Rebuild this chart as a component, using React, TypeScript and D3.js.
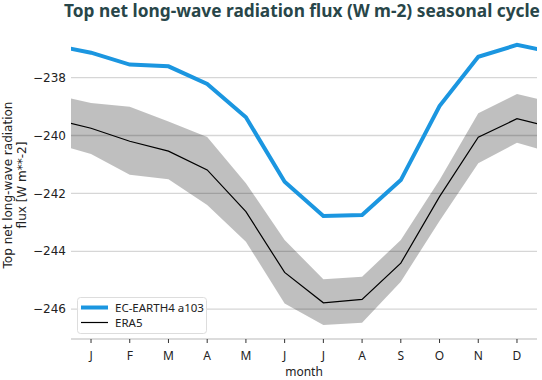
import React from "react";
import * as d3 from "d3";

const months = ["J", "F", "M", "A", "M", "J", "J", "A", "S", "O", "N", "D"];
const ecEarth = [-237.14, -237.55, -237.61, -238.22, -239.37, -241.6, -242.78, -242.75, -241.54, -238.98, -237.28, -236.87];
const era5 = [-239.75, -240.2, -240.54, -241.19, -242.63, -244.73, -245.78, -245.66, -244.41, -242.11, -240.06, -239.42];
const era5Upper = [-238.88, -239.01, -239.52, -240.05, -241.65, -243.61, -244.97, -244.88, -243.61, -241.54, -239.23, -238.57];
const era5Lower = [-240.64, -241.36, -241.51, -242.4, -243.67, -245.8, -246.55, -246.47, -245.05, -242.95, -240.96, -240.25];
const yTicks = [-238, -240, -242, -244, -246];

// wrap-around: previous December and next January
function wrap(arr: number[]) {
  const pts = arr.map((v, i) => [i, v] as [number, number]);
  return [[-1, arr[11]] as [number, number], ...pts, [12, arr[0]] as [number, number]];
}

export default function App() {
  const W = 542, H = 380;
  const left = 71, right = 537, top = 31, bottom = 339;
  const x = d3.scaleLinear().domain([-0.517, 11.517]).range([left, right]);
  const y = d3.scaleLinear().domain([-247.03, -236.39]).range([bottom, top]);

  const line = d3.line<[number, number]>().x((d) => x(d[0])).y((d) => y(d[1]));
  const lowW = wrap(era5Lower);
  const bandData = wrap(era5Upper).map((d, i) => ({ x: d[0], hi: d[1], lo: lowW[i][1] }));
  const area = d3
    .area<{ x: number; hi: number; lo: number }>()
    .x((d) => x(d.x))
    .y0((d) => y(d.lo))
    .y1((d) => y(d.hi));

  const sans = "'DejaVu Sans', sans-serif";
  const ub = "'Noto Sans', sans-serif";

  return (
    <svg width={W} height={H} style={{ position: "absolute", left: 0, top: 0 }}>
      <defs>
        <clipPath id="plotclip">
          <rect x={left} y={top} width={right - left} height={bottom - top} />
        </clipPath>
      </defs>
      <rect x={0} y={0} width={W} height={H} fill="#fff" />
      <text x={302} y={17} textAnchor="middle" fontFamily={ub} fontWeight="bold" fontSize={17.3} fill="#284649">
        Top net long-wave radiation flux (W m-2) seasonal cycle
      </text>
      {yTicks.map((t) => (
        <g key={t}>
          <line x1={left} x2={right} y1={y(t)} y2={y(t)} stroke="#d6d6d6" strokeWidth={1.3} />
          <text x={66} y={y(t)} dy="0.35em" textAnchor="end" fontFamily={sans} fontSize={12} fill="#222">
            {"\u2212" + Math.abs(t)}
          </text>
        </g>
      ))}
      <line x1={left} x2={right} y1={bottom} y2={bottom} stroke="#d0d0d0" strokeWidth={1.5} />
      {months.map((m, i) => (
        <g key={i}>
          <line x1={x(i)} x2={x(i)} y1={bottom} y2={bottom + 4} stroke="#333" strokeWidth={1} />
          <text x={x(i)} y={360} textAnchor="middle" fontFamily={ub} fontSize={12} fill="#222">
            {m}
          </text>
        </g>
      ))}
      <text x={(left + right) / 2} y={376} textAnchor="middle" fontFamily={ub} fontSize={12} fill="#222">
        month
      </text>
      <text transform="translate(12,185) rotate(-90)" textAnchor="middle" fontFamily={sans} fontSize={12} fill="#222">
        <tspan x={0} dy={0}>Top net long-wave radiation</tspan>
        <tspan x={0} dy={14}>flux [W m**-2]</tspan>
      </text>
      <g clipPath="url(#plotclip)">
        <path d={area(bandData) || ""} fill="rgba(0,0,0,0.25)" stroke="none" />
        <path d={line(wrap(era5)) || ""} fill="none" stroke="#000" strokeWidth={1.2} />
        <path d={line(wrap(ecEarth)) || ""} fill="none" stroke="#1b96e0" strokeWidth={4} />
      </g>
      <rect x={77.5} y={297.5} width={129} height={36} rx={3} fill="rgba(255,255,255,0.85)" stroke="#ddd" strokeWidth={1} />
      <line x1={81} x2={108} y1={307.5} y2={307.5} stroke="#1b96e0" strokeWidth={4} />
      <line x1={81} x2={108} y1={322.5} y2={322.5} stroke="#000" strokeWidth={1.2} />
      <text x={115} y={307.5} dy="0.35em" fontFamily={ub} fontSize={11.5} fill="#222">EC-EARTH4 a103</text>
      <text x={115} y={322.5} dy="0.35em" fontFamily={ub} fontSize={11.5} fill="#222">ERA5</text>
    </svg>
  );
}
